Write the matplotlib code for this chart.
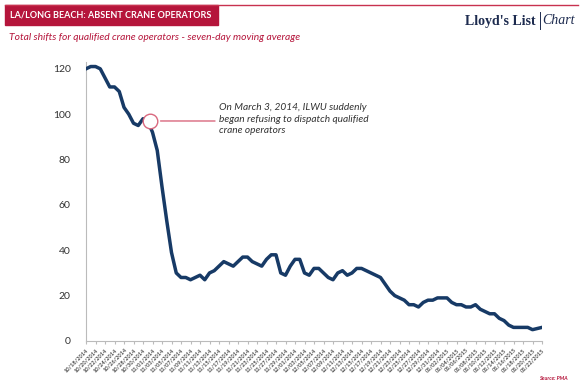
import matplotlib
matplotlib.use("Agg")
import matplotlib.pyplot as plt
from matplotlib.patches import Rectangle
import datetime as dt

plt.rcParams['font.family'] = ['Lato', 'DejaVu Sans']

start = dt.date(2014, 10, 18)
shifts = [120, 121, 121, 120, 116, 112, 112, 110, 103, 100,
          96, 95, 98, 97, 92, 84, 68, 53, 39, 30,
          28, 28, 27, 28, 29, 27, 30, 31, 33, 35,
          34, 33, 35, 37, 37, 35, 34, 33, 36, 38,
          38, 30, 29, 33, 36, 36, 30, 29, 32, 32,
          30, 28, 27, 30, 31, 29, 30, 32, 32, 31,
          30, 29, 28, 25, 22, 20, 19, 18, 16, 16,
          15, 17, 18, 18, 19, 19, 19, 17, 16, 16,
          15, 15, 16, 14, 13, 12, 12, 10, 9, 7,
          6, 6, 6, 6, 5, 5.5, 6]
dates = [start + dt.timedelta(days=i) for i in range(len(shifts))]
tick_idx = list(range(0, len(shifts), 2))
tick_labels = [dates[i].strftime('%m/%d/%Y') for i in tick_idx]
yticks = [0, 20, 40, 60, 80, 100, 120]

title = "LA/LONG BEACH: ABSENT CRANE OPERATORS"
subtitle = "Total shifts for qualified crane operators - seven-day moving average"
note = "On March 3, 2014, ILWU suddenly\nbegan refusing to dispatch qualified\ncrane operators"
event_idx = 13.5
event_val = 97

W, H = 583, 391
fig = plt.figure(figsize=(W / 100, H / 100), dpi=100)
fig.patch.set_facecolor('white')

crimson = '#b5153b'
navy = '#173a66'
brand = '#1d2b4f'

# header
fig.add_artist(plt.Line2D([5 / W, 578 / W], [1 - 4.5 / H, 1 - 4.5 / H], color='#c8324f', lw=1.0))
fig.add_artist(Rectangle((5 / W, 1 - 25 / H), 213 / W, 20 / H, color=crimson, transform=fig.transFigure))
fig.text(10 / W, 1 - 15 / H, title, color='white', fontsize=6.5, fontweight='bold', va='center', ha='left')
fig.text(9 / W, 1 - 37 / H, subtitle, color=crimson, fontsize=7.4, style='italic', va='center', ha='left')
fig.text(536 / W, 1 - 21 / H, "Lloyd's List", color=brand, fontsize=10, fontweight='bold',
         family='Liberation Serif', va='center', ha='right')
fig.add_artist(plt.Line2D([539.5 / W, 539.5 / W], [1 - 12 / H, 1 - 29 / H], color=brand, lw=0.7))
fig.text(542 / W, 1 - 21 / H, "Chart", color=brand, fontsize=10, style='italic',
         family='Liberation Serif', va='center', ha='left')
fig.text(568 / W, 1 - 378 / H, "Source: PMA", color=crimson, fontsize=3.8, ha='right', va='center',
         style='italic', fontweight='bold')

ax = fig.add_axes([86 / W, 1 - 341 / H, (542 - 86) / W, (341 - 62) / H])
x = list(range(len(shifts)))
ax.plot(x, shifts, color=navy, lw=2.5, solid_joinstyle='round', zorder=3)
ax.set_xlim(0, len(shifts) - 1)
ax.set_ylim(0, 123)
ax.set_yticks(yticks)
ax.set_yticklabels([str(v) for v in yticks], fontsize=7.5, color='#333333')
ax.set_xticks(tick_idx)
ax.set_xticklabels(tick_labels, rotation=45, ha='right', rotation_mode='anchor',
                   fontsize=4.0, color='#4d4d4d', fontweight='bold')
for s in ['top', 'right']:
    ax.spines[s].set_visible(False)
ax.spines['left'].set_color('#bbbbbb')
ax.spines['bottom'].set_color('#bbbbbb')
ax.tick_params(axis='y', length=0, pad=11)
ax.tick_params(axis='x', length=2.5, color='#bbbbbb', pad=2)

# annotation
ax.plot([event_idx], [event_val], marker='o', markersize=10.5, markerfacecolor='white',
        markeredgecolor='#d9687e', markeredgewidth=1.0, zorder=4)
ax.annotate('', xy=(event_idx, event_val), xycoords='data',
            xytext=(215 / W, 1 - 121 / H), textcoords='figure fraction',
            arrowprops=dict(arrowstyle='-', color='#d9687e', lw=1.0, shrinkA=0, shrinkB=7.5))
fig.text(219 / W, 1 - 119 / H, note, fontsize=7.3, style='italic', color='#333333',
         va='center', ha='left', linespacing=1.35)

fig.savefig('out.png', dpi=100, facecolor='white')
